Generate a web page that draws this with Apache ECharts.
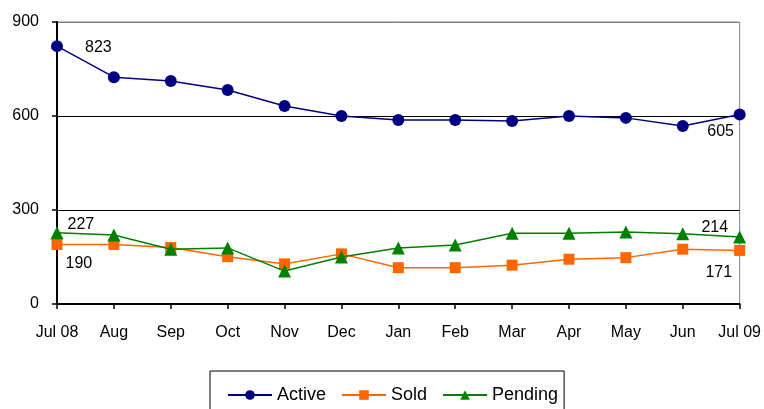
<!DOCTYPE html>
<html>
<head>
<meta charset="utf-8">
<script src="https://cdn.jsdelivr.net/npm/echarts@6/dist/echarts.min.js"></script>
<style>
html,body{margin:0;padding:0;background:#fff;}
#main{width:764px;height:409px;}
</style>
</head>
<body>
<div id="main"></div>
<script>
var categories = ['Jul 08','Aug','Sep','Oct','Nov','Dec','Jan','Feb','Mar','Apr','May','Jun','Jul 09'];
var activeValues = [823, 724, 712, 683, 632, 600, 587, 587, 584, 600, 594, 568, 605];
var soldValues = [190, 190, 180, 151, 128, 160, 116, 116, 124, 143, 148, 175, 171];
var pendingValues = [227, 220, 175, 179, 105, 150, 179, 188, 226, 226, 230, 224, 214];
var yTicks = [0, 300, 600, 900];

var FONT = 'Liberation Sans, Arial, sans-serif';
var FS = 16;

function withEndLabels(values, firstLabel, lastLabel) {
  return values.map(function (v, i) {
    if (i === 0) return { value: v, label: firstLabel };
    if (i === values.length - 1) return { value: v, label: lastLabel };
    return v;
  });
}
function lbl(position, distance, offset) {
  return { show: true, position: position, distance: distance, offset: offset,
           color: '#000', fontSize: FS, fontFamily: FONT };
}

var chart = echarts.init(document.getElementById('main'), null, { renderer: 'canvas' });
chart.setOption({
  animation: false,
  backgroundColor: '#fff',
  textStyle: { fontFamily: FONT },
  grid: { left: 57, right: 24, top: 22, bottom: 105, show: true, borderColor: '#808080', borderWidth: 1, backgroundColor: 'transparent' },
  legend: {
    left: 210, top: 371, width: 360,
    padding: [15, 6, 30, 17],
    borderColor: '#000', borderWidth: 1,
    itemWidth: 44, itemHeight: 12, itemGap: 15,
    textStyle: { color: '#000', fontSize: 18, fontFamily: FONT },
    data: ['Active', 'Sold', 'Pending']
  },
  xAxis: {
    type: 'category',
    data: categories,
    boundaryGap: false,
    axisLine: { lineStyle: { color: '#000', width: 2 } },
    axisTick: { show: true, length: 5, lineStyle: { color: '#000', width: 1.5 } },
    axisLabel: { color: '#000', fontSize: FS, fontFamily: FONT, margin: 21, interval: 0 },
    splitLine: { show: false }
  },
  yAxis: {
    type: 'value',
    min: yTicks[0], max: yTicks[yTicks.length - 1], interval: 300,
    axisLine: { show: true, lineStyle: { color: '#000', width: 2 } },
    axisTick: { show: true, length: 5, lineStyle: { color: '#000', width: 1.5 } },
    axisLabel: { color: '#000', fontSize: FS, fontFamily: FONT, margin: 18 },
    splitLine: { show: true, lineStyle: { color: ['#000', '#000', '#000', '#808080'], width: 1 } }
  },
  series: [
    {
      name: 'Active', type: 'line',
      data: withEndLabels(activeValues, lbl('right', 22, [0, 1]), lbl('bottom', 3, [-19, 0])),
      symbol: 'circle', symbolSize: 12,
      itemStyle: { color: '#000080' },
      lineStyle: { color: '#000080', width: 1.5 },
      z: 4
    },
    {
      name: 'Sold', type: 'line',
      data: withEndLabels(soldValues, lbl('right', 3, [0, 19]), lbl('left', 2, [0, 22])),
      symbol: 'rect', symbolSize: 11,
      itemStyle: { color: '#FF6600' },
      lineStyle: { color: '#FF6600', width: 1.5 },
      z: 3
    },
    {
      name: 'Pending', type: 'line',
      data: withEndLabels(pendingValues, lbl('right', 4, [0, -8]), lbl('left', 5, [0, -9])),
      symbol: 'triangle', symbolSize: 13,
      itemStyle: { color: '#008000' },
      lineStyle: { color: '#008000', width: 1.5 },
      z: 5
    }
  ]
});
</script>
</body>
</html>
